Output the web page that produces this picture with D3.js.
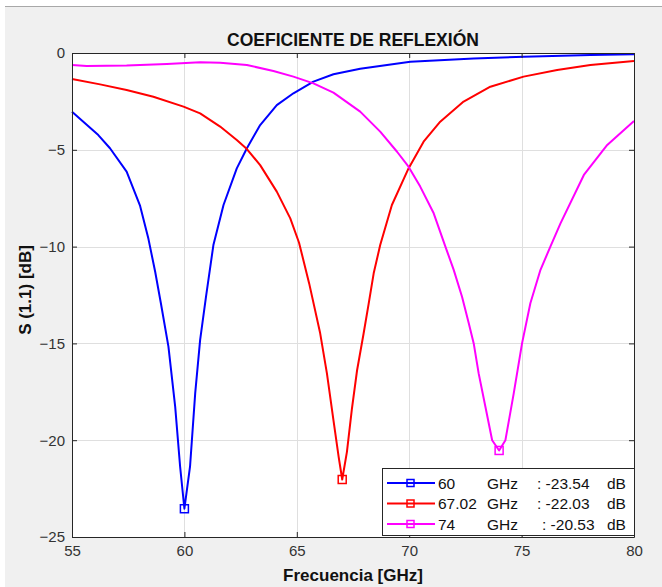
<!DOCTYPE html>
<html lang="es">
  <head>
    <meta charset="UTF-8" />
    <title>Coeficiente de reflexión</title>
    <script src="https://d3js.org/d3.v7.min.js"></script>
    <style>
      body { margin: 0; background: #ffffff; }
      text { font-family: "Liberation Sans", Arial, sans-serif; }
    </style>
  </head>
  <body>
    <svg width="662" height="587"></svg>

    <script>
      // frequency [GHz] and S11 [dB]
      const freqBlue = [55, 56.17, 56.69, 57.43, 58.03, 58.4, 58.7, 58.95, 59.29, 59.59, 59.81, 60,
        60.25, 60.48, 60.7, 60.96, 61.29, 61.74, 62.33, 62.78, 63.37, 64.11, 64.85, 65.74, 66.63,
        67.82, 70.05, 72.87, 75.1, 78.06, 80];
      const s11Blue = [-3.03, -4.24, -4.92, -6.13, -7.9, -9.6, -11.3, -12.9, -15.17, -18.27, -21.37, -23.54,
        -21.37, -17.58, -14.82, -12.6, -9.92, -7.85, -5.96, -4.92, -3.72, -2.69, -2.08, -1.48, -1.1,
        -0.81, -0.45, -0.28, -0.19, -0.1, -0.07];

      const freqRed = [55, 56.25, 57.43, 58.62, 59.96, 60.7, 61.59, 62.33, 62.78, 63.37, 64.11, 64.71,
        65.1, 65.55, 66.04, 66.34, 66.63, 66.86, 67.02, 67.23, 67.45, 67.68, 67.97, 68.19, 68.42, 68.71,
        69.23, 69.97, 70.64, 71.38, 72.42, 73.61, 75.09, 76.58, 78.06, 80];
      const s11Red = [-1.34, -1.62, -1.91, -2.26, -2.77, -3.12, -3.8, -4.49, -4.96, -5.79, -7.16, -8.54,
        -9.8, -11.9, -14.48, -16.55, -18.96, -20.85, -22.03, -20.6, -18.4, -16.4, -14.5, -13.0, -11.38, -9.92,
        -7.85, -5.96, -4.58, -3.55, -2.51, -1.74, -1.22, -0.88, -0.62, -0.41];

      const freqMag = [55, 55.65, 57.43, 59.22, 60.7, 61.59, 62.78, 63.96, 64.85, 65.74, 66.63, 67.82,
        68.71, 69.46, 69.97, 70.49, 71.09, 71.61, 71.98, 72.35, 72.65, 72.87, 73.09, 73.39, 73.69, 74,
        74.28, 74.65, 75.02, 75.39, 75.84, 76.28, 76.73, 77.77, 78.81, 80];
      const s11Mag = [-0.62, -0.67, -0.65, -0.57, -0.48, -0.5, -0.62, -0.93, -1.22, -1.57, -2.05, -3.03,
        -4.06, -5.1, -5.87, -6.9, -8.28, -10.0, -11.2, -12.59, -13.96, -15.0, -16.55, -18.27, -20.0, -20.53,
        -20.0, -17.58, -15.0, -12.93, -11.2, -10.0, -8.8, -6.3, -4.75, -3.51];

      // resonance markers
      const minFreq = [60, 67.02, 74];
      const minS11 = [-23.54, -22.03, -20.53];

      const legendFreq = ["60", "67.02", "74"];
      const legendDb = [": -23.54", ": -22.03", ": -20.53"];
      const colors = ["#0000ff", "#ff0000", "#ff00ff"];

      const xTicks = [55, 60, 65, 70, 75, 80];
      const yTicks = [0, -5, -10, -15, -20, -25];

      const series = [
        { f: freqBlue, s: s11Blue },
        { f: freqRed, s: s11Red },
        { f: freqMag, s: s11Mag },
      ];

      const svg = d3.select("svg");
      const margin = { left: 72, right: 28, top: 53, bottom: 50 };
      const W = 662, H = 587;

      // figure background
      svg.append("rect").attr("x", 5).attr("y", 6).attr("width", W - 5).attr("height", H - 6)
        .attr("fill", "#f0f0f0");
      svg.append("line").attr("x1", 5).attr("x2", W).attr("y1", 6.5).attr("y2", 6.5)
        .attr("stroke", "#a8a8a8");

      const x = d3.scaleLinear().domain([55, 80]).range([margin.left, W - margin.right]);
      const y = d3.scaleLinear().domain([-25, 0]).range([H - margin.bottom, margin.top]);

      svg.append("rect")
        .attr("x", x(55)).attr("y", y(0))
        .attr("width", x(80) - x(55)).attr("height", y(-25) - y(0))
        .attr("fill", "#ffffff");

      // grid
      const grid = svg.append("g").attr("class", "grid");
      grid.selectAll("line.gx").data(xTicks.slice(1, -1)).enter().append("line")
        .attr("x1", d => Math.round(x(d)) + 0.5).attr("x2", d => Math.round(x(d)) + 0.5)
        .attr("y1", y(0)).attr("y2", y(-25))
        .attr("stroke", "#dfdfdf");
      grid.selectAll("line.gy").data(yTicks.slice(1, -1)).enter().append("line")
        .attr("y1", d => Math.round(y(d)) + 0.5).attr("y2", d => Math.round(y(d)) + 0.5)
        .attr("x1", x(55)).attr("x2", x(80))
        .attr("stroke", "#dfdfdf");

      // curves (straight segments between samples, sharp at the dips)
      const line = d3.line().x(d => x(d[0])).y(d => y(d[1]));
      svg.append("g").selectAll("path").data(series).enter().append("path")
        .attr("d", d => line(d.f.map((v, i) => [v, d.s[i]])))
        .attr("fill", "none")
        .attr("stroke", (d, i) => colors[i])
        .attr("stroke-width", 2)
        .attr("stroke-linejoin", "round");

      // markers at the minima
      svg.append("g").selectAll("rect").data(minFreq).enter().append("rect")
        .attr("x", (d, i) => x(d) - 4).attr("y", (d, i) => y(minS11[i]) - 4)
        .attr("width", 8).attr("height", 8)
        .attr("fill", "none")
        .attr("stroke", (d, i) => colors[i])
        .attr("stroke-width", 1.5);

      // axes with inward ticks on all four sides
      const axisColor = "#262626";
      function styleAxis(g) {
        g.select(".domain").attr("stroke", axisColor);
        g.selectAll(".tick line").attr("stroke", axisColor);
        g.selectAll(".tick text").attr("fill", "#333333").attr("font-size", 15)
          .attr("font-family", "Liberation Sans, Arial, sans-serif");
      }
      svg.append("g").attr("transform", `translate(0,${y(-25)})`)
        .call(d3.axisBottom(x).tickValues(xTicks).tickSize(-5).tickSizeOuter(0).tickPadding(8))
        .call(styleAxis);
      svg.append("g").attr("transform", `translate(${x(55)},0)`)
        .call(d3.axisLeft(y).tickValues(yTicks).tickSize(-5).tickSizeOuter(0).tickPadding(7))
        .call(styleAxis);
      svg.append("g").attr("transform", `translate(0,${y(0)})`)
        .call(d3.axisTop(x).tickValues(xTicks).tickSize(-5).tickSizeOuter(0).tickFormat(""))
        .call(styleAxis);
      svg.append("g").attr("transform", `translate(${x(80)},0)`)
        .call(d3.axisRight(y).tickValues(yTicks).tickSize(-5).tickSizeOuter(0).tickFormat(""))
        .call(styleAxis);

      // titles
      svg.append("text").attr("x", (x(55) + x(80)) / 2).attr("y", 46)
        .attr("text-anchor", "middle").attr("font-weight", "bold").attr("font-size", 17.5)
        .attr("fill", "#111").text("COEFICIENTE DE REFLEXIÓN");
      svg.append("text").attr("x", (x(55) + x(80)) / 2).attr("y", 581)
        .attr("text-anchor", "middle").attr("font-weight", "bold").attr("font-size", 17)
        .attr("fill", "#111").text("Frecuencia [GHz]");
      svg.append("text")
        .attr("transform", `translate(31,${(y(0) + y(-25)) / 2 - 5}) rotate(-90)`)
        .attr("text-anchor", "middle").attr("font-weight", "bold").attr("font-size", 17)
        .attr("fill", "#111").text("S (1.1) [dB]");

      // legend
      const lg = svg.append("g").attr("transform", "translate(382,468)");
      lg.append("rect").attr("x", 0.5).attr("y", 0.5).attr("width", 252).attr("height", 67)
        .attr("fill", "#ffffff").attr("stroke", axisColor);
      const rows = lg.selectAll("g.row").data(legendFreq).enter().append("g")
        .attr("transform", (d, i) => `translate(0,${15 + i * 20.5})`);
      rows.append("line").attr("x1", 5).attr("x2", 53).attr("y1", 0).attr("y2", 0)
        .attr("stroke", (d, i) => colors[i]).attr("stroke-width", 2);
      rows.append("rect").attr("x", 25).attr("y", -3.5).attr("width", 7).attr("height", 7)
        .attr("fill", "none").attr("stroke", (d, i) => colors[i]).attr("stroke-width", 1.5);
      rows.append("text").attr("x", 56).attr("y", 5.5).attr("font-size", 15.5).attr("fill", "#111")
        .text(d => d);
      rows.append("text").attr("x", 105).attr("y", 5.5).attr("font-size", 15.5).attr("fill", "#111")
        .text("GHz");
      rows.append("text").attr("x", (d, i) => (i === 2 ? 160 : 155)).attr("y", 5.5)
        .attr("font-size", 15.5).attr("fill", "#111").text((d, i) => legendDb[i]);
      rows.append("text").attr("x", 225).attr("y", 5.5).attr("font-size", 15.5).attr("fill", "#111")
        .text("dB");
    </script>
  </body>
</html>
